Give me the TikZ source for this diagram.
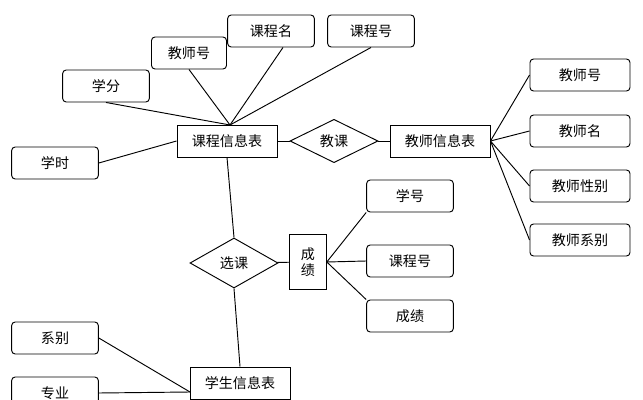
\documentclass[tikz,border=0pt]{standalone}
\usepackage{fontspec}
\setmainfont{Noto Sans CJK SC}
\usetikzlibrary{shapes.geometric}
\tikzset{
    attr/.style={draw, rounded corners=3pt, minimum width=2.6cm, minimum height=0.96cm, font=\fontsize{12}{14}\selectfont, thick},
    entity/.style={draw, minimum width=3cm, minimum height=0.96cm, font=\fontsize{12}{14}\selectfont, thick},
    rel/.style={draw, diamond, aspect=1.8, inner sep=1pt, minimum width=2.64cm, minimum height=1.3cm, font=\fontsize{12}{14}\selectfont, thick},
}
\begin{document}
\begin{tikzpicture}[x=0.03cm, y=-0.03cm, line width=0.8pt]
    \useasboundingbox (0,0) rectangle (643,400);

    % entities
    \node[entity] (course) at (227,141) {课程信息表};
    \node[entity] (teacher) at (440,141) {教师信息表};
    \node[entity] (student) at (240,383) {学生信息表};
    \node[draw, thick, minimum width=1.1cm, minimum height=1.65cm, align=center, font=\fontsize{12}{14}\selectfont] (grade) at (308,262) {成\\绩};

    % relations
    \node[rel] (teach) at (334,141) {教课};
    \node[rel, minimum height=1.5cm] (select) at (234,263) {选课};

    % course attributes
    \node[attr, minimum width=2.25cm] (ctno) at (189,53) {教师号};
    \node[attr] (cname) at (271,31) {课程名};
    \node[attr] (cno) at (371,31) {课程号};
    \node[attr] (credit) at (106,86) {学分};
    \node[attr] (hours) at (55,163) {学时};

    % teacher attributes
    \node[attr, minimum width=3cm] (tno) at (580,75) {教师号};
    \node[attr, minimum width=3cm] (tname) at (580,131) {教师名};
    \node[attr, minimum width=3cm] (tsex) at (580,186) {教师性别};
    \node[attr, minimum width=3cm] (tdept) at (580,240) {教师系别};

    % grade attributes
    \node[attr] (sno) at (410,196) {学号};
    \node[attr] (gcno) at (410,261) {课程号};
    \node[attr] (score) at (410,316) {成绩};

    % student attributes
    \node[attr] (dept) at (55,338) {系别};
    \node[attr] (major) at (55,393) {专业};

    \coordinate (hub) at (230,125);
    \draw (ctno.south) -- (hub);
    \draw (cname.south) ++(12,0) -- (hub);
    \draw (cno.south) -- (hub);
    \draw (credit.south) -- (hub);
    \draw (hours.east) -- (course.west);

    \draw (course) -- (teach) -- (teacher);
    \draw (course.south) -- (select.north);
    \draw (select.south) -- (student.north);
    \draw (select) -- (grade);

    \foreach \t in {tno, tname, tsex, tdept}
        \draw (teacher.east) -- (\t.west);

    \draw (grade.east) -- (sno.south west);
    \draw (grade.east) -- (gcno.west);
    \draw (grade.east) -- (score.north west);

    \coordinate (shub) at (190,392);
    \draw (dept.east) -- (shub);
    \draw (major.east) -- (shub);
\end{tikzpicture}
\end{document}
